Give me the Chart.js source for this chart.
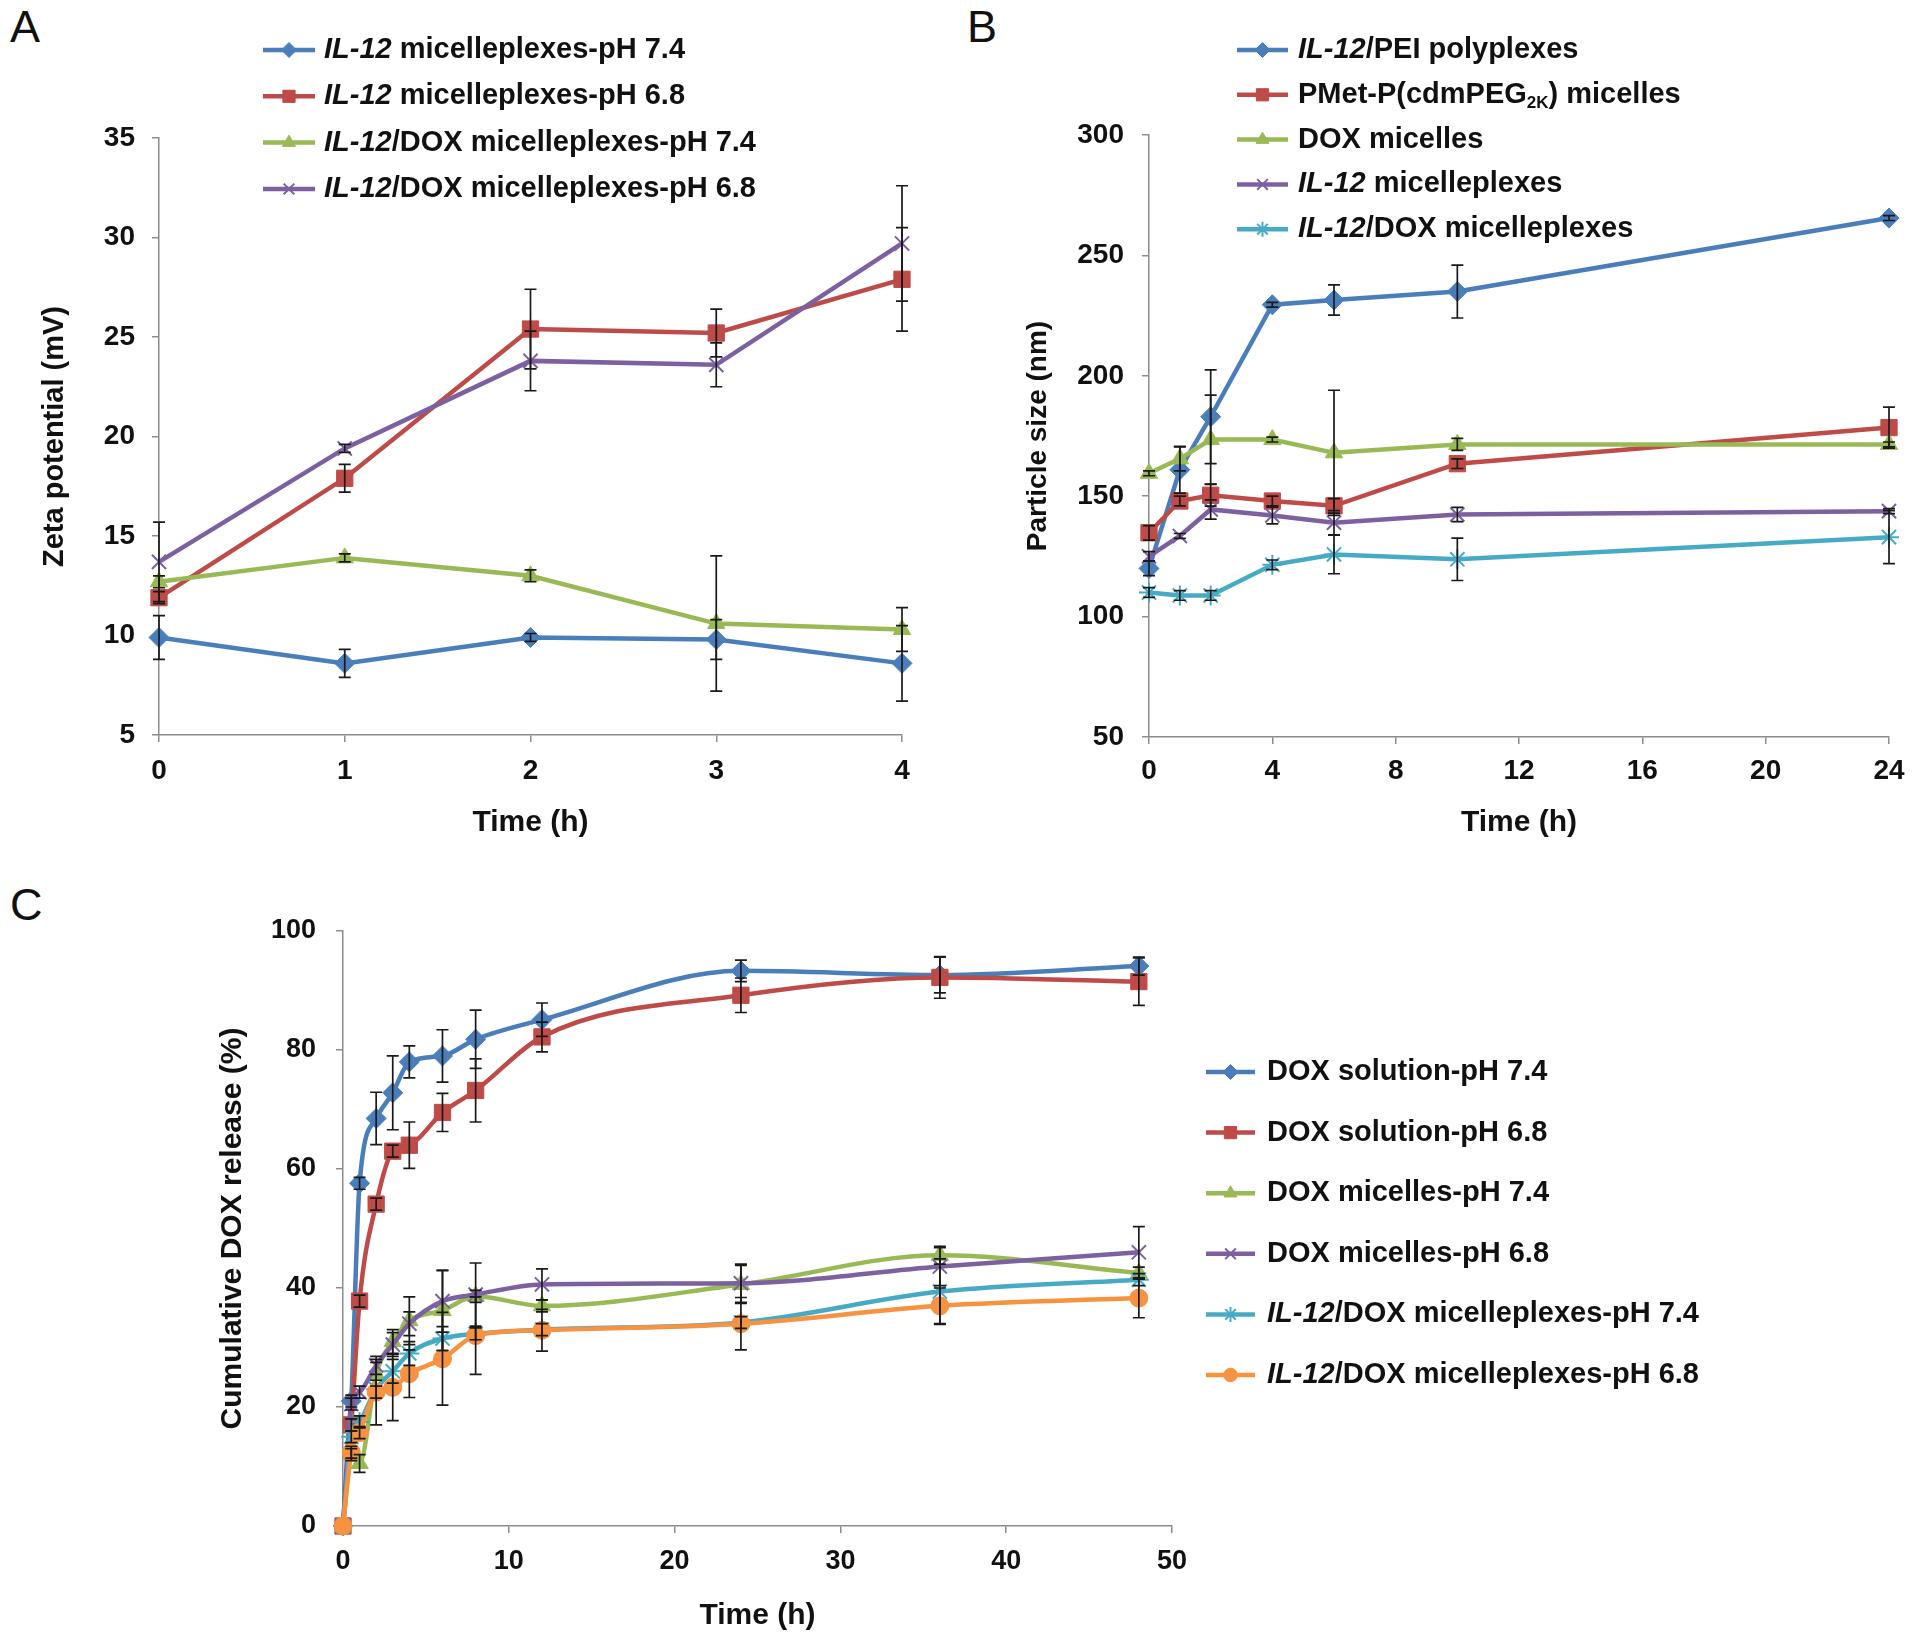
<!DOCTYPE html>
<html><head><meta charset="utf-8">
<script src="https://cdn.jsdelivr.net/npm/chart.js@4.4.1/dist/chart.umd.min.js"></script>
<style>
html,body{margin:0;padding:0;background:#fff;width:1920px;height:1641px;overflow:hidden;}
.box{position:absolute;}
.plab{position:absolute;font-family:"Liberation Sans",Arial,sans-serif;font-size:45px;line-height:1;color:#111;}
</style></head><body>
<div class="plab" style="left:10px;top:4px">A</div>
<div class="plab" style="left:967px;top:4px">B</div>
<div class="plab" style="left:10px;top:882px">C</div>
<div class="box" style="left:0;top:0"><canvas id="cA" width="960" height="860"></canvas></div>
<div class="box" style="left:960px;top:0"><canvas id="cB" width="960" height="860"></canvas></div>
<div class="box" style="left:0;top:860px"><canvas id="cC" width="1920" height="781"></canvas></div>
<script>
// ---------------- Panel A : zeta potential ----------------
const timeA = [0, 1, 2, 3, 4];
const yTicksA = [5, 10, 15, 20, 25, 30, 35];
const xTicksA = [0, 1, 2, 3, 4];
const labelsA = ['IL-12 micelleplexes-pH 7.4', 'IL-12 micelleplexes-pH 6.8',
                 'IL-12/DOX micelleplexes-pH 7.4', 'IL-12/DOX micelleplexes-pH 6.8'];
const zetaIL12_74 = [9.9, 8.6, 9.9, 9.8, 8.6];
const zetaIL12_74Err = [1.1, 0.7, 0.2, 1.0, 1.9];
const zetaIL12_68 = [11.9, 17.9, 25.4, 25.2, 27.9];
const zetaIL12_68Err = [0.3, 0.7, 2.0, 1.2, 2.6];
const zetaDOX_74 = [12.7, 13.9, 13.0, 10.6, 10.3];
const zetaDOX_74Err = [0.3, 0.2, 0.3, 3.4, 1.1];
const zetaDOX_68 = [13.7, 19.4, 23.8, 23.6, 29.7];
const zetaDOX_68Err = [2.0, 0.2, 1.5, 1.1, 2.9];

// ---------------- Panel B : particle size ----------------
const timeB = [0, 1, 2, 4, 6, 10, 24];
const yTicksB = [50, 100, 150, 200, 250, 300];
const xTicksB = [0, 4, 8, 12, 16, 20, 24];
const labelsB = ['IL-12/PEI polyplexes', 'PMet-P(cdmPEG2K) micelles', 'DOX micelles',
                 'IL-12 micelleplexes', 'IL-12/DOX micelleplexes'];
const sizePEI = [120, 161, 183, 229.5, 231.5, 235, 265.5];
const sizePEIErr = [3, 9.7, 19.5, 1, 6.3, 11, 1];
const sizePMet = [134.8, 148, 150.4, 148, 146, 163.5, 178.5];
const sizePMetErr = [3, 2, 4.5, 2, 3, 2, 8.5];
const sizeDOXMic = [159.5, 165.5, 173.5, 173.5, 168, 171.5, 171.5];
const sizeDOXMicErr = [1, 5, 18.5, 1, 26, 2.5, 1];
const sizeIL12Mic = [125, 133.5, 144.5, 142, 139, 142.4, 143.8];
const sizeIL12MicErr = [2, 1, 4, 3.5, 5, 3, 1];
const sizeIL12DOX = [110, 108.8, 108.8, 121.5, 125.8, 123.8, 133];
const sizeIL12DOXErr = [2, 2, 2, 2, 8, 8.8, 11];

// ---------------- Panel C : cumulative DOX release ----------------
const timeC = [0, 0.5, 1, 2, 3, 4, 6, 8, 12, 24, 36, 48];
const yTicksC = [0, 20, 40, 60, 80, 100];
const xTicksC = [0, 10, 20, 30, 40, 50];
const labelsC = ['DOX solution-pH 7.4', 'DOX solution-pH 6.8', 'DOX micelles-pH 7.4',
                 'DOX micelles-pH 6.8', 'IL-12/DOX micelleplexes-pH 7.4', 'IL-12/DOX micelleplexes-pH 6.8'];
const relSol74 = [0, 21, 57.6, 68.5, 72.8, 78, 79, 81.8, 85.1, 93.3, 92.6, 94.1];
const relSol74Err = [0, 1, 1, 4.4, 6.2, 2.7, 4.4, 4.9, 2.8, 1.8, 3, 1.5];
const relSol68 = [0, 17, 37.8, 54.1, 63, 64, 69.5, 73.2, 82.2, 89.2, 92.2, 91.5];
const relSol68Err = [0, 1, 1, 1, 1, 3.9, 3.2, 5.3, 2.5, 2.9, 3.5, 4];
const relMic74 = [0, 12, 10.5, 25.5, 31, 34.5, 36.2, 38.6, 37, 40.6, 45.5, 42.5];
const relMic74Err = [0, 1, 1.5, 2, 2, 4, 6.7, 1, 1, 3.2, 1.5, 1];
const relMic68 = [0, 20.5, 22.5, 27, 30.5, 34, 37.8, 38.9, 40.6, 40.8, 43.6, 46];
const relMic68Err = [0, 1, 1, 1.5, 2, 2, 5.2, 5.3, 2.6, 3.2, 3.2, 4.3];
const relPlex74 = [0, 15, 17.5, 23, 26, 29, 31.5, 32.3, 33, 34.2, 39.4, 41.4];
const relPlex74Err = [0, 1, 1, 1.5, 2, 2, 2, 1, 1, 1, 5.5, 1];
const relPlex68 = [0, 12.4, 15.7, 22.5, 23.3, 25.6, 28.1, 32, 32.9, 34, 37, 38.3];
const relPlex68Err = [0, 1, 1, 5.5, 5.6, 4, 7.8, 6.5, 3.5, 4.4, 3, 3.3];

// ---------------- styling ----------------
const FAM = '"Liberation Sans", Arial, Helvetica, sans-serif';
const COL = {blue:'#4A7EBB', red:'#BE4B48', green:'#98B954', purple:'#7D60A0', cyan:'#46AAC5', orange:'#F69240'};
const RAD = {rectRot: 10, rect: 11.5, triangle: 10, crossRot: 10, star: 10, circle: 9};
Chart.defaults.font.family = FAM;
Chart.defaults.color = '#111';

function pts(xs, ys) { return xs.map((x, i) => ({x: x, y: ys[i]})); }

function ds(label, xs, ys, errs, color, style, n, i, smooth) {
  const open = (style === 'crossRot' || style === 'star');
  const o = {
    label: label, data: pts(xs, ys), errors: errs,
    borderColor: color, backgroundColor: color, borderWidth: 4.5,
    pointStyle: style, pointRadius: RAD[style],
    pointBackgroundColor: color, pointBorderColor: color,
    pointBorderWidth: open ? 2 : 1,
    tension: 0, clip: false, order: n - i
  };
  if (smooth) { o.cubicInterpolationMode = 'monotone'; }
  return o;
}

const errorBarPlugin = {
  id: 'errorBars',
  afterDatasetsDraw(chart) {
    const ctx = chart.ctx, xs = chart.scales.x, ys = chart.scales.y;
    ctx.save();
    ctx.strokeStyle = '#1a1a1a'; ctx.lineWidth = 1.7;
    chart.data.datasets.forEach(d => {
      if (!d.errors) return;
      d.data.forEach((p, j) => {
        const e = d.errors[j];
        if (!e) return;
        const px = xs.getPixelForValue(p.x);
        const yt = ys.getPixelForValue(p.y + e), yb = ys.getPixelForValue(p.y - e);
        ctx.beginPath();
        ctx.moveTo(px, yt); ctx.lineTo(px, yb);
        ctx.moveTo(px - 6, yt); ctx.lineTo(px + 6, yt);
        ctx.moveTo(px - 6, yb); ctx.lineTo(px + 6, yb);
        ctx.stroke();
      });
    });
    ctx.restore();
  }
};

function parseLabel(s) {
  const segs = [];
  let rest = s;
  if (rest.startsWith('IL-12')) { segs.push({t: 'IL-12', it: true}); rest = rest.slice(5); }
  rest.split(/(2K)/).forEach(p => { if (p) segs.push({t: p, sub: p === '2K'}); });
  return segs;
}

const legendPlugin = {
  id: 'fixedLegend',
  afterDraw(chart, args, o) {
    if (!o || !o.show) return;
    const ctx = chart.ctx;
    chart.data.datasets.forEach((d, i) => {
      const y = o.y0 + i * o.dy;
      ctx.save();
      ctx.strokeStyle = d.borderColor; ctx.lineWidth = 4.5; ctx.lineCap = 'butt';
      ctx.beginPath(); ctx.moveTo(o.x, y); ctx.lineTo(o.x + o.len, y); ctx.stroke();
      ctx.fillStyle = d.pointBackgroundColor; ctx.strokeStyle = d.pointBorderColor;
      ctx.lineWidth = d.pointBorderWidth;
      Chart.helpers.drawPoint(ctx, {pointStyle: d.pointStyle, radius: d.pointRadius * 0.75, rotation: 0, borderWidth: d.pointBorderWidth}, o.x + o.len / 2, y);
      ctx.fillStyle = '#111'; ctx.textBaseline = 'middle'; ctx.textAlign = 'left';
      let tx = o.textX;
      parseLabel(d.label).forEach(s => {
        const sz = s.sub ? Math.round(o.size * 0.6) : o.size;
        ctx.font = (s.it ? 'italic ' : '') + 'bold ' + sz + 'px ' + FAM;
        ctx.fillText(s.t, tx, y + (s.sub ? o.size * 0.28 : 0));
        tx += ctx.measureText(s.t).width;
      });
      ctx.restore();
    });
  }
};

function makeChart(id, c) {
  const W = c.W, H = c.H, a = c.area;
  return new Chart(document.getElementById(id), {
    type: 'line',
    data: {datasets: c.datasets},
    plugins: [errorBarPlugin, legendPlugin],
    options: {
      responsive: false, animation: false, events: [],
      layout: {padding: {left: 0, top: a.t, right: W - a.r, bottom: 0}},
      plugins: {legend: {display: false}, tooltip: {enabled: false}, fixedLegend: c.legend},
      scales: {
        x: {
          type: 'linear', min: c.xTicks[0], max: c.xTicks[c.xTicks.length - 1],
          afterFit: s => { s.height = H - a.b; },
          ticks: {stepSize: c.xTicks[1] - c.xTicks[0], maxRotation: 0, autoSkip: false,
                  padding: c.xTickPad, font: {size: c.tickSize, weight: 'bold'}, color: '#111'},
          grid: {drawOnChartArea: false, drawTicks: true, tickLength: 7, color: '#8c8c8c', lineWidth: 1.5},
          border: {display: true, color: '#8c8c8c', width: 1.5},
          title: {display: true, text: c.xTitle, font: {size: c.xTitleSize, weight: 'bold'}, color: '#111',
                  padding: {top: 0, bottom: c.xTitlePad}}
        },
        y: {
          type: 'linear', min: c.yTicks[0], max: c.yTicks[c.yTicks.length - 1],
          afterFit: s => { s.width = a.l; },
          ticks: {stepSize: c.yTicks[1] - c.yTicks[0], padding: c.yTickPad,
                  font: {size: c.tickSize, weight: 'bold'}, color: '#111'},
          grid: {drawOnChartArea: false, drawTicks: true, tickLength: 7, color: '#8c8c8c', lineWidth: 1.5},
          border: {display: true, color: '#8c8c8c', width: 1.5},
          title: {display: true, text: c.yTitle, font: {size: c.yTitleSize, weight: 'bold'}, color: '#111',
                  padding: {top: c.yTitlePad, bottom: 0}}
        }
      }
    }
  });
}

// Panel A
makeChart('cA', {
  W: 960, H: 860, area: {l: 159, t: 138, r: 902, b: 735},
  xTicks: xTicksA, yTicks: yTicksA,
  xTitle: 'Time (h)', yTitle: 'Zeta potential (mV)',
  tickSize: 28, xTitleSize: 30, yTitleSize: 29, xTitlePad: 19, yTitlePad: 38, xTickPad: 12, yTickPad: 17,
  legend: {show: true, x: 263, len: 52, textX: 324, y0: 50, dy: 46.3, size: 29},
  datasets: [
    ds(labelsA[0], timeA, zetaIL12_74, zetaIL12_74Err, COL.blue, 'rectRot', 4, 0),
    ds(labelsA[1], timeA, zetaIL12_68, zetaIL12_68Err, COL.red, 'rect', 4, 1),
    ds(labelsA[2], timeA, zetaDOX_74, zetaDOX_74Err, COL.green, 'triangle', 4, 2),
    ds(labelsA[3], timeA, zetaDOX_68, zetaDOX_68Err, COL.purple, 'crossRot', 4, 3)
  ]
});

// Panel B
makeChart('cB', {
  W: 960, H: 860, area: {l: 189, t: 135, r: 929, b: 737},
  xTicks: xTicksB, yTicks: yTicksB,
  xTitle: 'Time (h)', yTitle: 'Particle size (nm)',
  tickSize: 28, xTitleSize: 30, yTitleSize: 28, xTitlePad: 19, yTitlePad: 61, xTickPad: 10, yTickPad: 18,
  legend: {show: true, x: 277, len: 51, textX: 338, y0: 50, dy: 44.8, size: 29},
  datasets: [
    ds(labelsB[0], timeB, sizePEI, sizePEIErr, COL.blue, 'rectRot', 5, 0),
    ds(labelsB[1], timeB, sizePMet, sizePMetErr, COL.red, 'rect', 5, 1),
    ds(labelsB[2], timeB, sizeDOXMic, sizeDOXMicErr, COL.green, 'triangle', 5, 2),
    ds(labelsB[3], timeB, sizeIL12Mic, sizeIL12MicErr, COL.purple, 'crossRot', 5, 3),
    ds(labelsB[4], timeB, sizeIL12DOX, sizeIL12DOXErr, COL.cyan, 'star', 5, 4)
  ]
});

// Panel C
makeChart('cC', {
  W: 1920, H: 781, area: {l: 343, t: 71, r: 1172, b: 666},
  xTicks: xTicksC, yTicks: yTicksC,
  xTitle: 'Time (h)', yTitle: 'Cumulative DOX release (%)',
  tickSize: 27, xTitleSize: 30, yTitleSize: 30, xTitlePad: 7, yTitlePad: 215, xTickPad: 12, yTickPad: 20,
  legend: {show: true, x: 1206, len: 49, textX: 1267, y0: 212, dy: 60.6, size: 29},
  datasets: [
    ds(labelsC[0], timeC, relSol74, relSol74Err, COL.blue, 'rectRot', 6, 0, true),
    ds(labelsC[1], timeC, relSol68, relSol68Err, COL.red, 'rect', 6, 1, true),
    ds(labelsC[2], timeC, relMic74, relMic74Err, COL.green, 'triangle', 6, 2, true),
    ds(labelsC[3], timeC, relMic68, relMic68Err, COL.purple, 'crossRot', 6, 3, true),
    ds(labelsC[4], timeC, relPlex74, relPlex74Err, COL.cyan, 'star', 6, 4, true),
    ds(labelsC[5], timeC, relPlex68, relPlex68Err, COL.orange, 'circle', 6, 5, true)
  ]
});
</script>
</body></html>
